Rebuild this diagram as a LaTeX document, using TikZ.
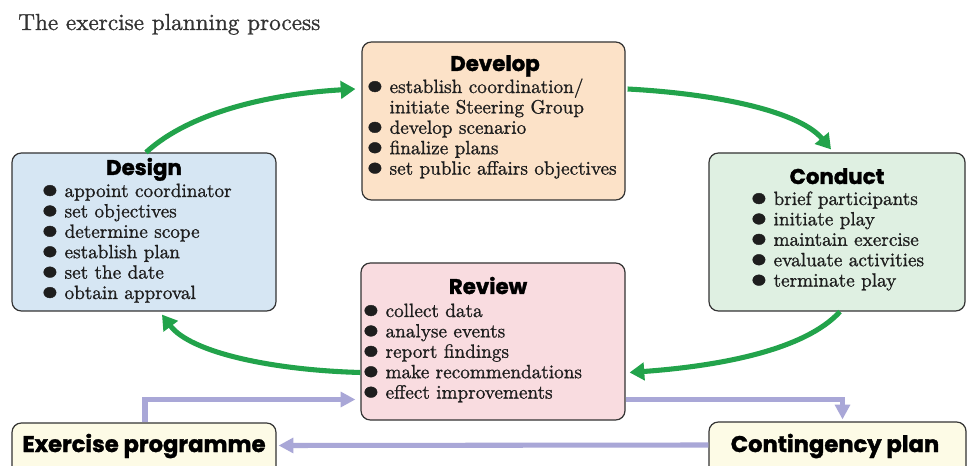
\documentclass[tikz,border=0pt]{standalone}
\usepackage{fontspec}
\newfontfamily\headfont{Poppins}[BoldFeatures={FakeBold=1.5}]
\newfontfamily\bodyfont{lmroman10-regular.otf}[FakeBold=1]
\usetikzlibrary{arrows.meta,calc,fit}
\definecolor{devfill}{HTML}{FCE2C8}
\definecolor{desfill}{HTML}{D6E6F3}
\definecolor{confill}{HTML}{DFF0E2}
\definecolor{revfill}{HTML}{F9DCE0}
\definecolor{botfill}{HTML}{FDFBE6}
\definecolor{edge}{HTML}{333333}
\definecolor{ggreen}{HTML}{22A34B}
\definecolor{lav}{HTML}{A9A7D7}
\definecolor{titlegray}{HTML}{333333}
\definecolor{bodyblack}{HTML}{1E1E1E}
\newcommand\bdot{\makebox[7pt][c]{\ensuremath{\vcenter{\hbox{\scalebox{2.25}[1.95]{\textbullet}}}}}}
\newcommand\blist[1]{\begin{tabular}[t]{@{}l@{\hspace{7.5pt}}l@{}}#1\end{tabular}}
\begin{document}
\begin{tikzpicture}[x=0.75pt,y=-0.75pt,
  box/.style={draw=edge,line width=0.9pt,rounded corners=7pt,inner sep=0pt},
  head/.style={font=\headfont\bfseries\fontsize{16}{19}\selectfont,anchor=base,inner sep=0pt},
  bighead/.style={font=\headfont\bfseries\fontsize{17}{20}\selectfont,anchor=base,inner sep=0pt},
  body/.style={font=\bodyfont\fontsize{14.4}{15.3}\selectfont,text=bodyblack,anchor=base west,inner sep=0pt},
  garrow/.style={draw=ggreen,line width=3.8pt,-{Triangle[length=11pt,width=13pt]}},
  larrow/.style={draw=lav,line width=3.8pt,-{Triangle[length=11pt,width=11pt]}}]
\useasboundingbox (0,0) rectangle (967,466);
\clip (0,0) rectangle (967,466);
\fill[white] (0,0) rectangle (967,466);

\node[anchor=base west,inner sep=0pt,text=titlegray,font=\bodyfont\fontsize{17.4}{20}\selectfont] (title) at (18,30) {The exercise planning process};

% boxes
\node[box,fill=devfill,fit={(362,42) (625,200)}] (develop) {};
\node[box,fill=desfill,fit={(12,153) (276,311)}] (design) {};
\node[box,fill=confill,fit={(709,153) (965,311)}] (conduct) {};
\node[box,fill=revfill,fit={(361,263) (625,420)}] (review) {};
\node[box,fill=botfill,fit={(12,423) (276,500)}] (expprog) {};
\node[box,fill=botfill,fit={(709,422) (966,500)}] (contplan) {};

% headings
\node[head] (devhead) at (495,71) {Develop};
\node[head] (deshead) at (144,175) {Design};
\node[head] (conhead) at (837,184) {Conduct};
\node[head] (revhead) at (488,294) {Review};
\node[bighead] (explabel) at (144,452) {Exercise programme};
\node[bighead] (contlabel) at (835,452) {Contingency plan};

% lists
\node[body] (devlist) at (370,93) {\blist{%
\bdot & establish coordination/\\
 & initiate Steering Group\\
\bdot & develop scenario\\
\bdot & finalize plans\\
\bdot & set public affairs objectives}};
\node[body] (deslist) at (45,197) {\blist{%
\bdot & appoint coordinator\\
\bdot & set objectives\\
\bdot & determine scope\\
\bdot & establish plan\\
\bdot & set the date\\
\bdot & obtain approval}};
\node[body] (conlist) at (754,205) {\blist{%
\bdot & brief participants\\
\bdot & initiate play\\
\bdot & maintain exercise\\
\bdot & evaluate activities\\
\bdot & terminate play}};
\node[body] (revlist) at (366,317) {\blist{%
\bdot & collect data\\
\bdot & analyse events\\
\bdot & report findings\\
\bdot & make recommendations\\
\bdot & effect improvements}};

% green cycle arrows
\draw[garrow] ($(design.north)+(2,0)$) .. controls (190,112) and (270,94) .. ($(develop.west)+(-6,-32)$);
\draw[garrow] ($(develop.east)+(2,-32)$) .. controls (720,94) and (800,112) .. ($(conduct.north)+(-6,-3)$);
\draw[garrow] ($(conduct.south)+(3,0)$) .. controls (805,350) and (720,366) .. ($(review.east)+(4,31)$);
\draw[garrow] ($(review.west)+(0,31)$) .. controls (270,370) and (190,352) .. ($(design.south)+(18,3)$);

% lavender arrows
\draw[larrow] ($(expprog.north)+(1,0)$) |- ($(review.west)+(-5,58)$);
\draw[larrow] ($(review.east)+(0,58)$) -| ($(contplan.north)+(5,-2)$);
\draw[larrow] ($(contplan.west)+(0,-16)$) -- ($(expprog.east)+(2,-16)$);
\end{tikzpicture}
\end{document}
